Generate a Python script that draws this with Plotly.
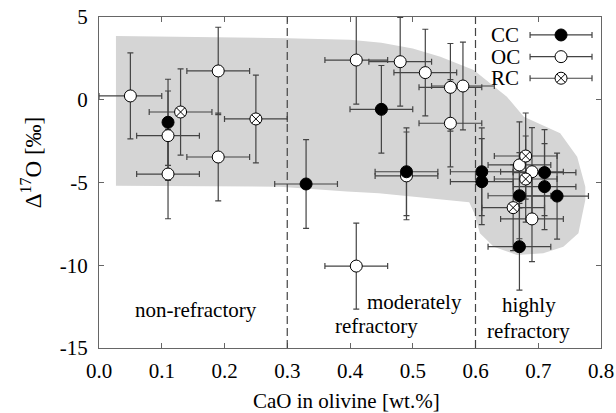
import plotly.graph_objects as go

# ---------------- data ----------------
cc_x = [0.11, 0.33, 0.45, 0.49, 0.61, 0.61, 0.71, 0.71, 0.67, 0.73, 0.67]
cc_y = [-1.36, -5.09, -0.58, -4.35, -4.35, -4.95, -4.40, -5.25, -5.80, -5.82, -8.88]
cc_xerr = [0.0, 0.05, 0.05, 0.05, 0.05, 0.05, 0.05, 0.05, 0.05, 0.05, 0.05]
cc_yerr = [2.6, 2.68, 2.65, 2.65, 2.65, 2.6, 2.6, 2.6, 2.6, 2.6, 2.62]

oc_x = [0.05, 0.11, 0.11, 0.19, 0.19, 0.41, 0.48, 0.52, 0.56, 0.58, 0.56, 0.49, 0.41, 0.67, 0.69, 0.69]
oc_y = [0.23, -2.17, -4.49, 1.74, -3.46, 2.40, 2.30, 1.64, 0.75, 0.83, -1.42, -4.60, -10.05, -3.94, -4.35, -7.20]
oc_xerr = [0.05] * 16
oc_yerr = [2.6, 2.7, 2.7, 2.64, 2.65, 2.66, 2.68, 2.62, 2.65, 2.65, 2.63, 2.65, 2.6, 2.6, 2.66, 2.58]

rc_x = [0.13, 0.25, 0.68, 0.68, 0.66]
rc_y = [-0.74, -1.16, -3.40, -4.79, -6.52]
rc_xerr = [0.05] * 5
rc_yerr = [2.6, 2.65, 2.6, 2.6, 2.6]

region_x = [0.027, 0.30, 0.40, 0.45, 0.50, 0.544, 0.597, 0.650, 0.677, 0.735, 0.762, 0.775, 0.775,
            0.764, 0.740, 0.708, 0.666, 0.629, 0.607, 0.598, 0.59, 0.528, 0.446, 0.395, 0.288, 0.027]
region_y = [3.85, 3.72, 3.62, 3.45, 3.1, 2.6, 1.8, 0.18, -1.02, -2.03, -3.44, -5.25, -6.06,
            -8.07, -8.88, -9.28, -9.38, -8.88, -8.07, -6.86, -6.2, -5.96, -5.65, -5.55, -5.25, -5.2]

boundaries = [0.3, 0.6]
x_ticks = [0.0, 0.1, 0.2, 0.3, 0.4, 0.5, 0.6, 0.7, 0.8]
y_ticks = [-15, -10, -5, 0, 5]
legend_names = ["CC", "OC", "RC"]

# ---------------- style ----------------
FONT = "Liberation Serif"
ERR = "#444444"
AX = "#666666"

fig = go.Figure()

fig.add_trace(go.Scatter(x=region_x, y=region_y, fill="toself", fillcolor="#d5d5d5",
                         mode="lines", line=dict(width=0, color="#d5d5d5"),
                         hoverinfo="skip", showlegend=False))

def err_trace(xs, ys, xe, ye):
    return go.Scatter(x=xs, y=ys, mode="markers",
                      marker=dict(size=1, color="rgba(0,0,0,0)"),
                      error_x=dict(type="data", array=xe, color=ERR, thickness=1.2, width=3),
                      error_y=dict(type="data", array=ye, color=ERR, thickness=1.2, width=3),
                      showlegend=False, hoverinfo="skip")

fig.add_trace(err_trace(oc_x, oc_y, oc_xerr, oc_yerr))
fig.add_trace(err_trace(rc_x, rc_y, rc_xerr, rc_yerr))
fig.add_trace(err_trace(cc_x, cc_y, cc_xerr, cc_yerr))

fig.add_trace(go.Scatter(x=oc_x, y=oc_y, mode="markers", name="OC",
                         marker=dict(symbol="circle", size=12, color="white",
                                     line=dict(color="black", width=1)), showlegend=False))
fig.add_trace(go.Scatter(x=rc_x, y=rc_y, mode="markers", name="RC",
                         marker=dict(symbol="circle-x", size=12, color="white",
                                     line=dict(color="black", width=1)), showlegend=False))
fig.add_trace(go.Scatter(x=cc_x, y=cc_y, mode="markers", name="CC",
                         marker=dict(symbol="circle", size=12, color="black",
                                     line=dict(color="black", width=1)), showlegend=False))

# ---------- custom legend (symbol to the right of text) on an inset axis ----------
leg_y = [0.8285, 0.501, 0.175]
leg_sym = [dict(symbol="circle", color="black"), dict(symbol="circle", color="white"),
           dict(symbol="circle-x", color="white")]
for name, ly, sym in zip(legend_names, leg_y, leg_sym):
    fig.add_trace(go.Scatter(x=[0.602], y=[ly], xaxis="x2", yaxis="y2", mode="markers",
                             marker=dict(size=12, line=dict(color="black", width=1), **sym),
                             error_x=dict(type="constant", value=0.3085, color=ERR,
                                          thickness=1.2, width=3),
                             showlegend=False, hoverinfo="skip"))
    fig.add_annotation(text=name, xref="paper", yref="paper", x=0.7777,
                       y=0.78 + ly * 0.2, xanchor="left", yanchor="middle",
                       showarrow=False, font=dict(family=FONT, size=21, color="black"))

for b in boundaries:
    fig.add_shape(type="line", x0=b, x1=b, y0=0, y1=1, xref="x", yref="paper",
                  line=dict(color=ERR, width=1.2, dash="8px,4px"))

region_labels = [("non-refractory", 0.154, -12.7), ("moderately", 0.502, -12.2),
                 ("refractory", 0.443, -13.7), ("highly", 0.685, -12.4),
                 ("refractory", 0.684, -13.95)]
for t, x, y in region_labels:
    fig.add_annotation(text=t, x=x, y=y, showarrow=False, xanchor="center", yanchor="middle",
                       font=dict(family=FONT, size=21, color="black"))

fig.add_annotation(text="Δ<sup>17</sup>O [‰]", xref="paper", yref="paper", x=-0.134, y=0.56,
                   textangle=-90, showarrow=False, xanchor="center", yanchor="middle",
                   font=dict(family=FONT, size=23, color="black"))
fig.add_annotation(text="CaO in olivine [wt.%]", xref="paper", yref="paper", x=0.493, y=-0.161,
                   showarrow=False, xanchor="center", yanchor="middle",
                   font=dict(family=FONT, size=21, color="black"))

axis_common = dict(showgrid=False, zeroline=False, showline=True, linecolor=AX, linewidth=1,
                   mirror="ticks", ticks="inside", ticklen=5, tickcolor=AX, tickwidth=1,
                   automargin=False,
                   tickfont=dict(family=FONT, size=21, color="black"))

fig.update_layout(
    width=616, height=413, autosize=False,
    margin=dict(l=99, r=15, t=17, b=65, pad=0),
    paper_bgcolor="white", plot_bgcolor="white",
    xaxis=dict(range=[0, 0.8], tickvals=x_ticks, ticktext=[f"{v:.1f}" for v in x_ticks],
               ticklabelstandoff=4, **axis_common),
    yaxis=dict(range=[-15, 5], tickvals=y_ticks, ticktext=[str(v) for v in y_ticks],
               ticklabelstandoff=6, **axis_common),
    xaxis2=dict(domain=[0.8, 1.0], range=[0, 1], visible=False, anchor="y2"),
    yaxis2=dict(domain=[0.78, 0.98], range=[0, 1], visible=False, anchor="x2"),
    showlegend=False,
)

# remove the default page margin so the 616x413 figure fills the window exactly
fig.write_html("out.html", config={"displayModeBar": False},
               post_script="document.body.style.margin='0';document.body.style.overflow='hidden';")
